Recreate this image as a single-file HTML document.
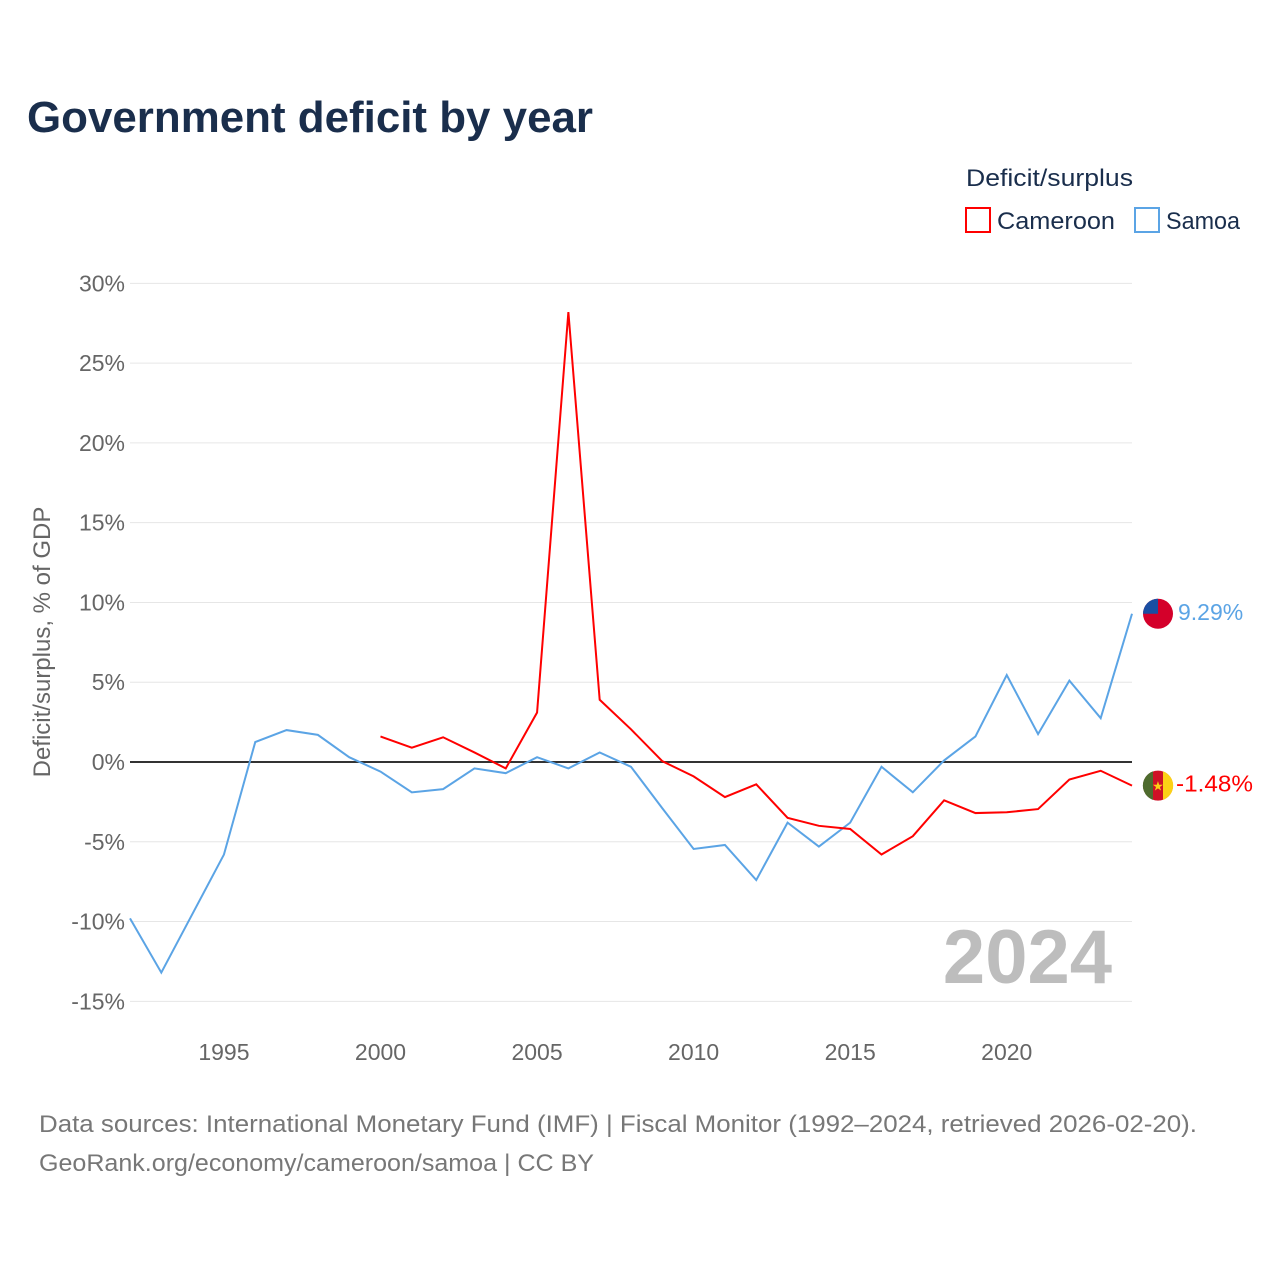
<!DOCTYPE html>
<html><head><meta charset="utf-8"><style>
body{margin:0;background:#fff;font-family:"Liberation Sans",sans-serif}
</style></head><body>
<svg id="chart" width="1280" height="1280" xmlns="http://www.w3.org/2000/svg" font-family="Liberation Sans, sans-serif">
<rect width="1280" height="1280" fill="#fff"/>
<text x="27" y="132" font-size="44" font-weight="bold" fill="#1a2e4c" textLength="566" lengthAdjust="spacingAndGlyphs">Government deficit by year</text>
<text x="966" y="186" font-size="24" fill="#1a2e4c" textLength="167" lengthAdjust="spacingAndGlyphs">Deficit/surplus</text>
<g><rect x="966" y="208" width="24" height="24" fill="none" stroke="#f00" stroke-width="2"/><text x="997" y="229" font-size="24" fill="#1a2e4c" textLength="118" lengthAdjust="spacingAndGlyphs">Cameroon</text></g>
<g><rect x="1135" y="208" width="24" height="24" fill="none" stroke="#5ba4e5" stroke-width="2"/><text x="1166" y="229" font-size="24" fill="#1a2e4c" textLength="74" lengthAdjust="spacingAndGlyphs">Samoa</text></g>
<g id="grid"></g><g id="marks"></g>
<text x="1112" y="983" text-anchor="end" font-size="76" font-weight="bold" fill="#bdbdbd">2024</text>
<text transform="translate(50,642) rotate(-90)" text-anchor="middle" font-size="24" fill="#666">Deficit/surplus, % of GDP</text>
<text x="39" y="1132" font-size="24" fill="#777" textLength="1158" lengthAdjust="spacingAndGlyphs">Data sources: International Monetary Fund (IMF) | Fiscal Monitor (1992–2024, retrieved 2026-02-20).</text>
<text x="39" y="1171" font-size="24" fill="#777" textLength="555" lengthAdjust="spacingAndGlyphs">GeoRank.org/economy/cameroon/samoa | CC BY</text>
</svg>
<script>
const samoaYears=[1992,1993,1994,1995,1996,1997,1998,1999,2000,2001,2002,2003,2004,2005,2006,2007,2008,2009,2010,2011,2012,2013,2014,2015,2016,2017,2018,2019,2020,2021,2022,2023,2024];
const samoaValues=[-9.8,-13.2,-9.5,-5.8,1.25,2.0,1.7,0.3,-0.6,-1.9,-1.7,-0.4,-0.7,0.3,-0.4,0.6,-0.3,-2.9,-5.45,-5.2,-7.4,-3.8,-5.3,-3.8,-0.3,-1.9,0.1,1.6,5.45,1.75,5.1,2.75,9.29];
const cameroonYears=[2000,2001,2002,2003,2004,2005,2006,2007,2008,2009,2010,2011,2012,2013,2014,2015,2016,2017,2018,2019,2020,2021,2022,2023,2024];
const cameroonValues=[1.6,0.9,1.55,0.6,-0.4,3.1,28.2,3.9,2.05,0.05,-0.9,-2.2,-1.4,-3.5,-4.0,-4.2,-5.8,-4.65,-2.4,-3.2,-3.15,-2.95,-1.1,-0.55,-1.48];
const yTicks=[30,25,20,15,10,5,0,-5,-10,-15];
const xTicks=[1995,2000,2005,2010,2015,2020];

const NS="http://www.w3.org/2000/svg";
const X=y=>130+(y-1992)*(1002/32);
const Y=v=>762-v*(718/45);
function mk(tag,attrs,parent,txt){const e=document.createElementNS(NS,tag);for(const k in attrs)e.setAttribute(k,attrs[k]);if(txt!==undefined)e.textContent=txt;parent.appendChild(e);return e;}
const grid=document.getElementById('grid'),marks=document.getElementById('marks');
yTicks.forEach(t=>{
  const l=mk('line',{x1:130,x2:1132,y1:Y(t),y2:Y(t),stroke:t===0?'#333':'#e6e6e6','stroke-width':t===0?2:1},grid);
  
  
  const tx=mk('text',{x:125,y:Y(t)+8,'text-anchor':'end','font-size':23,fill:'#666'},grid,t+'%');
  
  
});
xTicks.forEach(t=>{
  const tx=mk('text',{x:X(t),y:1060,'text-anchor':'middle','font-size':23,fill:'#666'},grid,String(t));
  
  
});
function line(years,vals,color,name){
  const p=mk('polyline',{points:years.map((y,i)=>X(y)+','+Y(vals[i])).join(' '),fill:'none',stroke:color,'stroke-width':2},marks);
  
  
}
line(samoaYears,samoaValues,'#5ba4e5','samoa-line');
line(cameroonYears,cameroonValues,'#f00','cameroon-line');
const sv=samoaValues[samoaValues.length-1],cv=cameroonValues[cameroonValues.length-1];
const sy=Y(sv),cy=Y(cv);
const sf=mk('g',{},marks);


mk('circle',{cx:1158,cy:sy,r:15,fill:'#d4002a'},sf);
mk('path',{d:`M1143 ${sy} A15 15 0 0 1 1158 ${sy-15} L1158 ${sy} Z`,fill:'#1a4fa3'},sf);
const st=mk('text',{x:1178,y:sy+6,'font-size':23,fill:'#5ba4e5'},marks,sv.toFixed(2)+'%');


const cf=mk('g',{},marks);


mk('circle',{cx:1158,cy:cy,r:15,fill:'#ce1126'},cf);
mk('path',{d:`M1153 ${cy-14.2} A15 15 0 0 0 1153 ${cy+14.2} Z`,fill:'#4e6b2e'},cf);
mk('path',{d:`M1163 ${cy-14.2} A15 15 0 0 1 1163 ${cy+14.2} Z`,fill:'#fcd116'},cf);
mk('text',{x:1158,y:cy+5,'text-anchor':'middle','font-size':13,fill:'#fcd116'},cf,'★');
const ct=mk('text',{x:1176,y:cy+6,'font-size':23,fill:'#f00','textLength':77,'lengthAdjust':'spacingAndGlyphs'},marks,cv.toFixed(2)+'%');


</script>
</body></html>
